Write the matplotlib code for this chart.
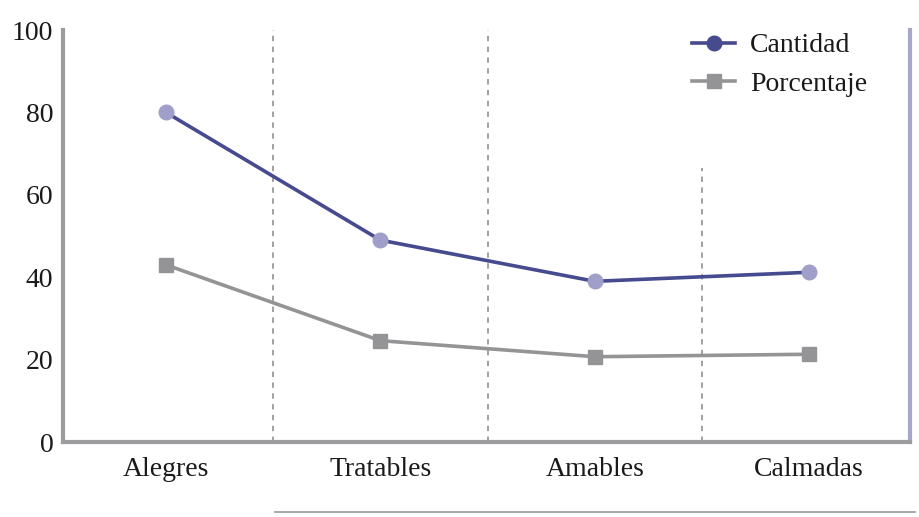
import numpy as np
import matplotlib
matplotlib.use("Agg")
import matplotlib.pyplot as plt
from matplotlib.lines import Line2D

categories = ["Alegres", "Tratables", "Amables", "Calmadas"]
cantidad = [80, 49, 39, 41.2]
porcentaje = [43, 24.6, 20.7, 21.3]
y_ticks = [0, 20, 40, 60, 80, 100]

plt.rcParams["font.family"] = ["Liberation Serif", "DejaVu Serif"]

fig = plt.figure(figsize=(9.2, 5.17), dpi=100)
ax = fig.add_axes([63 / 920, 1 - 442 / 517, (910 - 63) / 920, (442 - 30) / 517])

x = np.arange(len(categories))
line_c = "#464a8e"
mark_c = "#a09fc9"
gray = "#949496"
text_c = "#1a1a1a"

ax.plot(x, cantidad, color=line_c, lw=2.6, zorder=3)
ax.plot(x, cantidad, "o", color=mark_c, ms=10.5, zorder=4)
ax.plot(x, porcentaje, color=gray, lw=2.6, marker="s", ms=10.5, zorder=3)

# dashed separators
for i, xs in enumerate([0.5, 1.5, 2.5]):
    top = 100 if i < 2 else 66.5
    ax.plot([xs, xs], [0, top], ls=(0, (3, 3)), color="#9a9a9a", lw=1.3, zorder=1)

ax.set_xlim(-0.48, 3.47)
ax.set_ylim(0, 100)
ax.set_xticks(x)
ax.set_xticklabels(categories)
ax.set_yticks(y_ticks)
ax.tick_params(length=0, labelsize=20, colors=text_c)
ax.tick_params(axis="y", pad=7)
ax.tick_params(axis="x", pad=11)

ax.spines["top"].set_visible(False)
ax.spines["left"].set_color("#9c9c9e")
ax.spines["left"].set_linewidth(3)
ax.spines["bottom"].set_color("#9c9c9e")
ax.spines["bottom"].set_linewidth(3)
ax.spines["right"].set_color("#a7a7ca")
ax.spines["right"].set_linewidth(3)

handles = [
    Line2D([], [], color=line_c, lw=2.6, marker="o", ms=10.5, markerfacecolor=line_c),
    Line2D([], [], color=gray, lw=2.6, marker="s", ms=10.5),
]
leg = fig.legend(handles, ["Cantidad", "Porcentaje"], loc="upper left", frameon=False,
                 fontsize=20, handlelength=1.55, handletextpad=0.55, labelspacing=0.46,
                 borderpad=0, borderaxespad=0,
                 bbox_to_anchor=(692 / 920, 1 - 33 / 517))
for t in leg.get_texts():
    t.set_color(text_c)

fig.add_artist(Line2D([275 / 920, 915 / 920], [1 - 512 / 517] * 2, color="#9a9a9a", lw=1.2))

fig.savefig("out.png", dpi=100)
